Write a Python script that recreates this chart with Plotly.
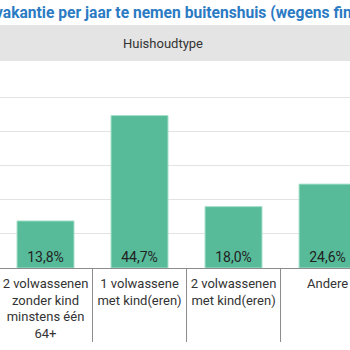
import plotly.graph_objects as go

categories = ["2 volwassenen<br>zonder kind<br>minstens één<br>64+",
              "1 volwassene<br>met kind(eren)",
              "2 volwassenen<br>met kind(eren)",
              "Andere"]
values = [13.8, 44.7, 18.0, 24.6]
title_text = "vakantie per jaar te nemen buitenshuis (wegens financiële redenen)"
header_text = "Huishoudtype"
grid_ticks = [10, 20, 30, 40, 50]

W, H = 350, 350
top, bottom = 61, 268
ph = bottom - top

def py(pix):
    # pixel y -> paper y
    return (bottom - pix) / ph

labels = [f"{v:.1f}".replace(".", ",") + "%" for v in values]
xs = list(range(len(values)))

fig = go.Figure(go.Bar(
    x=xs, y=values, width=0.606,
    marker=dict(color="#57bb9a", line=dict(color="#a6e0c8", width=1)),
    text=labels, textposition="inside", insidetextanchor="start", textangle=0,
    insidetextfont=dict(family="Roboto", size=14, color="#222222"),
    cliponaxis=False,
))

fig.update_layout(
    width=W, height=H,
    margin=dict(l=0, r=0, t=top, b=H - bottom, pad=0),
    paper_bgcolor="white", plot_bgcolor="white",
    showlegend=False,
    font=dict(family="Roboto", color="#333333"),
    xaxis=dict(range=[-0.484, 3.239], tickmode="array", tickvals=xs, ticktext=categories,
               tickfont=dict(family="Roboto", size=13, color="#333333"),
               showgrid=False, zeroline=False, showline=True, linecolor="#8c8c8c", linewidth=1,
               ticks="", ticklabelstandoff=3, fixedrange=True),
    yaxis=dict(range=[0, 60.7], tickmode="array", tickvals=grid_ticks, showticklabels=False,
               showgrid=True, gridcolor="#e3e3e3", gridwidth=1, zeroline=False, ticks="",
               fixedrange=True),
    shapes=[
        dict(type="rect", xref="paper", yref="paper", x0=0, x1=1, y0=py(61), y1=py(25),
             fillcolor="#e4e4e4", line=dict(width=0), layer="below"),
    ] + [
        dict(type="line", xref="x", yref="paper", x0=i + 0.5, x1=i + 0.5, y0=0, y1=py(342),
             line=dict(color="#8c8c8c", width=1))
        for i in range(len(values) - 1)
    ],
    annotations=[
        dict(text=title_text, xref="paper", yref="paper", x=-7 / W, y=py(13),
             xanchor="left", yanchor="middle", showarrow=False,
             font=dict(family="Roboto", size=15.6, color="#2b7bc4", weight="bold")),
        dict(text=header_text, xref="paper", yref="paper", x=163 / W, y=py(43),
             xanchor="center", yanchor="middle", showarrow=False,
             font=dict(family="Roboto", size=13, color="#333333")),
    ],
)

fig.write_html("out.html")
